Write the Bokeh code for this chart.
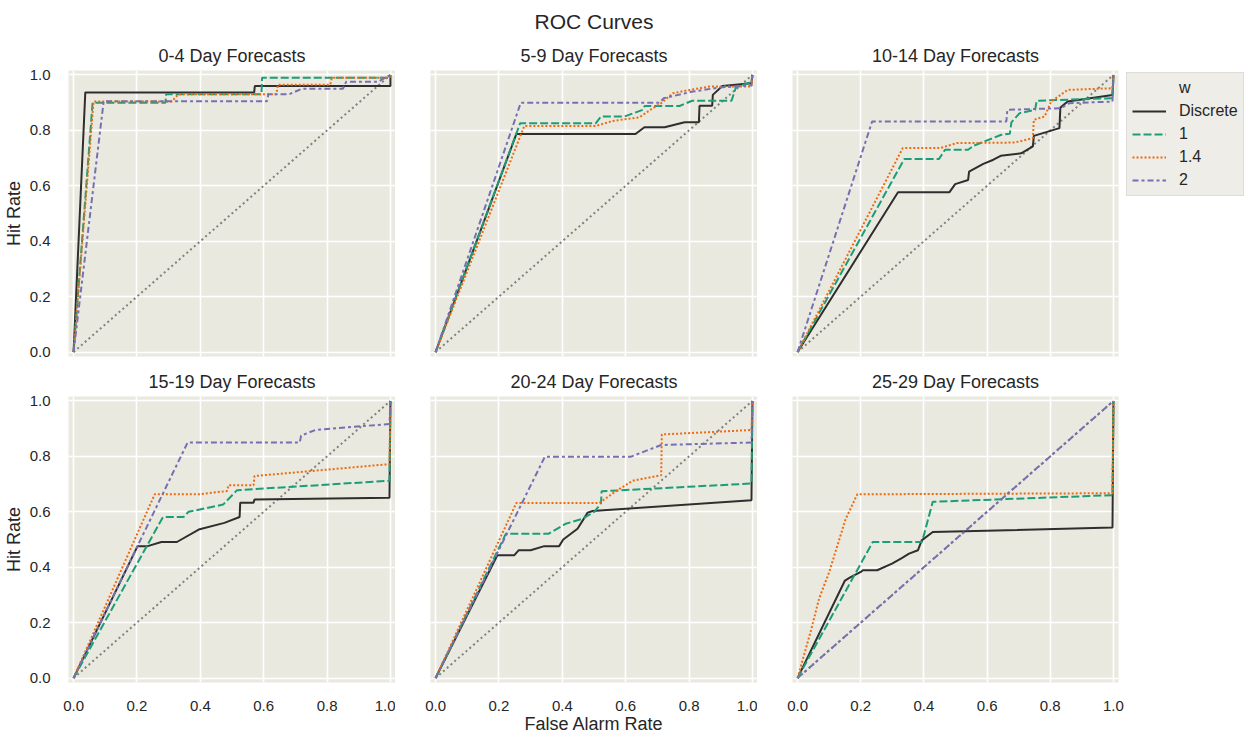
from bokeh.plotting import figure
from bokeh.layouts import row, column
from bokeh.models import (FixedTicker, PrintfTickFormatter, Legend, LegendItem,
                          Title, Range1d)
from bokeh.embed import file_html
from bokeh.resources import INLINE

# ---------------- data ----------------
SUPTITLE = "ROC Curves"
PANEL_TITLES = ["0-4 Day Forecasts", "5-9 Day Forecasts", "10-14 Day Forecasts",
                "15-19 Day Forecasts", "20-24 Day Forecasts", "25-29 Day Forecasts"]
LEGEND_TITLE = "w"
SERIES = ["Discrete", "1", "1.4", "2"]
TICKS = [0.0, 0.2, 0.4, 0.6, 0.8, 1.0]
DIAG = [0.0, 1.0]

# 0-4 days
d04_disc_far = [0, 0.037, 0.57, 0.572, 1.0, 1.0]
d04_disc_hr = [0, 0.937, 0.937, 0.96, 0.96, 1.0]
d04_w1_far = [0, 0.06, 0.29, 0.292, 0.593, 0.595, 0.997, 1.0]
d04_w1_hr = [0, 0.90, 0.90, 0.93, 0.93, 0.99, 0.99, 1.0]
d04_w14_far = [0, 0.063, 0.31, 0.33, 0.64, 0.645, 0.81, 0.815, 0.997, 1.0]
d04_w14_hr = [0, 0.904, 0.904, 0.93, 0.93, 0.965, 0.965, 0.99, 0.99, 1.0]
d04_w2_far = [0, 0.095, 0.61, 0.615, 0.68, 0.72, 0.85, 0.86, 0.96, 1.0]
d04_w2_hr = [0, 0.905, 0.905, 0.93, 0.93, 0.95, 0.95, 0.975, 0.975, 1.0]

# 5-9 days
d59_disc_far = [0, 0.255, 0.631, 0.659, 0.723, 0.786, 0.831, 0.833, 0.873, 0.875, 0.905, 0.997, 1.0]
d59_disc_hr = [0, 0.787, 0.787, 0.811, 0.811, 0.829, 0.829, 0.889, 0.889, 0.928, 0.96, 0.97, 1.0]
d59_w1_far = [0, 0.267, 0.506, 0.522, 0.596, 0.654, 0.66, 0.77, 0.81, 0.934, 0.948, 0.997, 1.0]
d59_w1_hr = [0, 0.826, 0.826, 0.85, 0.85, 0.874, 0.888, 0.888, 0.907, 0.907, 0.955, 0.975, 1.0]
d59_w14_far = [0, 0.28, 0.506, 0.559, 0.643, 0.686, 0.712, 0.749, 0.802, 0.865, 0.997, 1.0]
d59_w14_hr = [0, 0.816, 0.816, 0.834, 0.847, 0.88, 0.898, 0.934, 0.946, 0.958, 0.958, 1.0]
d59_w2_far = [0, 0.269, 0.707, 0.72, 0.812, 0.897, 0.997, 1.0]
d59_w2_hr = [0, 0.90, 0.90, 0.916, 0.94, 0.955, 0.962, 1.0]

# 10-14 days
d1014_disc_far = [0, 0.318, 0.481, 0.499, 0.54, 0.543, 0.588, 0.62, 0.643, 0.708, 0.745, 0.748,
                  0.829, 0.832, 0.855, 0.997, 1.0]
d1014_disc_hr = [0, 0.577, 0.577, 0.606, 0.621, 0.651, 0.679, 0.694, 0.708, 0.717, 0.742, 0.78,
                 0.808, 0.882, 0.904, 0.928, 1.0]
d1014_w1_far = [0, 0.338, 0.448, 0.467, 0.54, 0.556, 0.645, 0.672, 0.677, 0.703, 0.752, 0.757, 0.997, 1.0]
d1014_w1_hr = [0, 0.697, 0.697, 0.73, 0.73, 0.744, 0.784, 0.788, 0.829, 0.862, 0.874, 0.907, 0.916, 1.0]
d1014_w14_far = [0, 0.333, 0.451, 0.504, 0.687, 0.745, 0.748, 0.782, 0.803, 0.855, 0.997, 1.0]
d1014_w14_hr = [0, 0.736, 0.736, 0.754, 0.756, 0.772, 0.838, 0.85, 0.904, 0.946, 0.952, 1.0]
d1014_w2_far = [0, 0.236, 0.661, 0.664, 0.834, 0.86, 0.997, 1.0]
d1014_w2_hr = [0, 0.832, 0.832, 0.874, 0.88, 0.898, 0.904, 1.0]

# 15-19 days
d1519_disc_far = [0, 0.202, 0.234, 0.277, 0.326, 0.395, 0.476, 0.524, 0.526, 0.568, 0.571, 0.997, 1.0]
d1519_disc_hr = [0, 0.476, 0.476, 0.491, 0.491, 0.536, 0.56, 0.581, 0.633, 0.633, 0.644, 0.651, 1.0]
d1519_w1_far = [0, 0.282, 0.347, 0.363, 0.472, 0.516, 0.997, 1.0]
d1519_w1_hr = [0, 0.581, 0.581, 0.6, 0.626, 0.678, 0.712, 1.0]
d1519_w14_far = [0, 0.256, 0.395, 0.484, 0.489, 0.568, 0.571, 0.997, 1.0]
d1519_w14_hr = [0, 0.663, 0.663, 0.675, 0.696, 0.696, 0.729, 0.772, 1.0]
d1519_w2_far = [0, 0.36, 0.714, 0.718, 0.763, 0.997, 1.0]
d1519_w2_hr = [0, 0.85, 0.85, 0.875, 0.895, 0.917, 1.0]

# 20-24 days
d2024_disc_far = [0, 0.195, 0.248, 0.262, 0.3, 0.343, 0.39, 0.403, 0.448, 0.48, 0.496, 0.997, 1.0]
d2024_disc_hr = [0, 0.443, 0.443, 0.461, 0.461, 0.476, 0.476, 0.5, 0.539, 0.597, 0.603, 0.642, 1.0]
d2024_w1_far = [0, 0.222, 0.357, 0.411, 0.464, 0.501, 0.522, 0.524, 0.997, 1.0]
d2024_w1_hr = [0, 0.521, 0.521, 0.557, 0.575, 0.6, 0.63, 0.674, 0.702, 1.0]
d2024_w14_far = [0, 0.255, 0.517, 0.565, 0.622, 0.712, 0.714, 0.997, 1.0]
d2024_w14_hr = [0, 0.632, 0.632, 0.671, 0.712, 0.732, 0.879, 0.895, 1.0]
d2024_w2_far = [0, 0.345, 0.617, 0.712, 0.997, 1.0]
d2024_w2_hr = [0, 0.799, 0.799, 0.841, 0.85, 1.0]

# 25-29 days
d2529_disc_far = [0, 0.15, 0.168, 0.199, 0.207, 0.252, 0.299, 0.33, 0.353, 0.381, 0.393, 0.428, 0.997, 1.0]
d2529_disc_hr = [0, 0.352, 0.364, 0.382, 0.389, 0.389, 0.413, 0.433, 0.449, 0.461, 0.497, 0.527, 0.543, 1.0]
d2529_w1_far = [0, 0.238, 0.394, 0.428, 0.997, 1.0]
d2529_w1_hr = [0, 0.491, 0.491, 0.636, 0.66, 1.0]
d2529_w14_far = [0, 0.042, 0.068, 0.1, 0.152, 0.189, 0.997, 1.0]
d2529_w14_hr = [0, 0.17, 0.286, 0.382, 0.573, 0.663, 0.667, 1.0]
d2529_w2_far = [0, 1.0]
d2529_w2_hr = [0, 1.0]

PANELS = [
    [(d04_disc_far, d04_disc_hr), (d04_w1_far, d04_w1_hr), (d04_w14_far, d04_w14_hr), (d04_w2_far, d04_w2_hr)],
    [(d59_disc_far, d59_disc_hr), (d59_w1_far, d59_w1_hr), (d59_w14_far, d59_w14_hr), (d59_w2_far, d59_w2_hr)],
    [(d1014_disc_far, d1014_disc_hr), (d1014_w1_far, d1014_w1_hr), (d1014_w14_far, d1014_w14_hr), (d1014_w2_far, d1014_w2_hr)],
    [(d1519_disc_far, d1519_disc_hr), (d1519_w1_far, d1519_w1_hr), (d1519_w14_far, d1519_w14_hr), (d1519_w2_far, d1519_w2_hr)],
    [(d2024_disc_far, d2024_disc_hr), (d2024_w1_far, d2024_w1_hr), (d2024_w14_far, d2024_w14_hr), (d2024_w2_far, d2024_w2_hr)],
    [(d2529_disc_far, d2529_disc_hr), (d2529_w1_far, d2529_w1_hr), (d2529_w14_far, d2529_w14_hr), (d2529_w2_far, d2529_w2_hr)],
]

# ---------------- style ----------------
COLORS = ["#2e2e2e", "#1b9e77", "#ee6a10", "#7570b3"]
DASHES = ["solid", "8 3", "2 2", "6 3 3 3"]
FONT = "Liberation Sans"
TXT = "#262626"
BG = "#EAE9E0"

FRAME_W = [327, 327, 326]
FRAME_H = 286


def style_title(t, size, standoff):
    t.align = "center"
    t.text_font = FONT
    t.text_font_size = size
    t.text_font_style = "normal"
    t.text_color = TXT
    t.standoff = standoff


figs = []
for i in range(6):
    r, c = divmod(i, 3)
    p = figure(frame_width=FRAME_W[c], frame_height=FRAME_H,
               x_range=Range1d(-0.016, 1.016), y_range=Range1d(-0.016, 1.016),
               output_backend="svg", toolbar_location=None,
               min_border_left=60 if c == 0 else 35,
               min_border_right=121 if c == 2 else 0,
               min_border_top=70 if r == 0 else 32,
               min_border_bottom=8 if r == 0 else 50)
    p.background_fill_color = BG
    p.border_fill_color = "white"
    p.outline_line_color = None

    if i == 1:
        # outer title (suptitle) is the figure title, the panel title sits next to the frame
        p.title.text = SUPTITLE
        style_title(p.title, "21px", 14)
        inner = Title(text=PANEL_TITLES[i])
        style_title(inner, "18px", 9)
        p.add_layout(inner, "above")
    else:
        p.title.text = PANEL_TITLES[i]
        style_title(p.title, "18px", 9)

    for ax in (p.xaxis[0], p.yaxis[0]):
        ax.ticker = FixedTicker(ticks=TICKS)
        ax.formatter = PrintfTickFormatter(format="%.1f")
        ax.major_tick_line_color = None
        ax.minor_tick_line_color = None
        ax.axis_line_color = None
        ax.major_label_text_font = FONT
        ax.major_label_text_font_size = "15px"
        ax.major_label_text_color = TXT
        ax.major_label_standoff = 12
        ax.axis_label_text_font = FONT
        ax.axis_label_text_font_size = "18px"
        ax.axis_label_text_font_style = "normal"
        ax.axis_label_text_color = TXT
        ax.axis_label_standoff = 3
    p.xaxis.axis_label_standoff = 0
    for g in (p.xgrid[0], p.ygrid[0]):
        g.ticker = FixedTicker(ticks=TICKS)
        g.grid_line_color = "white"
        g.grid_line_width = 1.6

    if r == 0:
        p.xaxis.visible = False
    if c > 0:
        p.yaxis.visible = False
    if c == 0:
        p.yaxis.axis_label = "Hit Rate"
    if i == 4:
        p.xaxis.axis_label = "False Alarm Rate"

    p.line(DIAG, DIAG, line_color="#808080", line_width=2, line_dash="2 3")
    rends = []
    for k, (fx, fy) in enumerate(PANELS[i]):
        rl = p.line(fx, fy, line_color=COLORS[k], line_width=2, line_dash=DASHES[k])
        rends.append(rl)
    if i == 2:
        # legend heading drawn as a label-aligned row (as in the reference)
        head = p.line([], [], line_alpha=0)
        items = [LegendItem(label=LEGEND_TITLE, renderers=[head])]
        items += [LegendItem(label=SERIES[k], renderers=[rends[k]]) for k in range(4)]
        legend = Legend(items=items, location=(8, 160), margin=0, padding=5, spacing=3,
                        glyph_width=34, glyph_height=20, label_height=20, label_standoff=13,
                        label_text_font=FONT, label_text_font_size="16px", label_text_color=TXT,
                        border_line_color="#cccccc", border_line_width=1,
                        background_fill_color="#EEEDE7", background_fill_alpha=1.0)
        p.add_layout(legend, "right")
    figs.append(p)

layout = column(row(figs[0], figs[1], figs[2]), row(figs[3], figs[4], figs[5]))
open("out.html", "w").write(file_html(layout, INLINE))
